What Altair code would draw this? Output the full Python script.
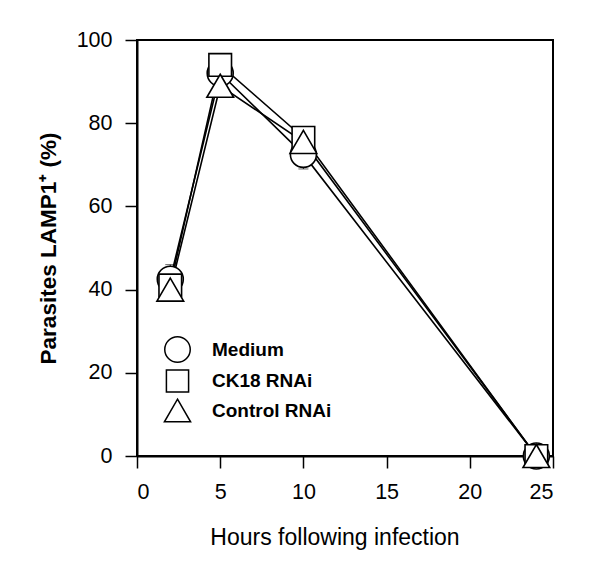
import altair as alt
import pandas as pd

hours = [2, 5, 10, 24]
series_names = ["Medium", "CK18 RNAi", "Control RNAi"]
medium = [42.5, 92, 72.5, 0]
ck18 = [41, 94, 76.5, 0]
control = [40, 89, 75.5, 0]
medium_err = [3.5, 2, 3.5, 0.5]
ck18_err = [1, 2.5, 1.5, 0.5]
control_err = [1, 1.5, 3, 0.5]
x_ticks = [0, 5, 10, 15, 20, 25]
y_ticks = [0, 20, 40, 60, 80, 100]

rows = []
for order, (name, vals, errs) in enumerate(zip(series_names, [medium, ck18, control],
                                               [medium_err, ck18_err, control_err])):
    for h, v, e in zip(hours, vals, errs):
        rows.append({"series": name, "hours": h, "value": v,
                     "lo": v - e, "hi": v + e, "ord": order})
df = pd.DataFrame(rows)

FONT = "Liberation Sans"

SQUARE = "M-0.87,-0.87L0.87,-0.87L0.87,0.87L-0.87,0.87Z"
TRIANGLE = "M0,-0.885L1.027,0.885L-1.027,0.885Z"

xscale = alt.Scale(domain=[0, 25], nice=False, zero=False)
yscale = alt.Scale(domain=[0, 100], nice=False)

xaxis = alt.Axis(values=x_ticks, title="Hours following infection", grid=False,
                 tickSize=12, labelPadding=13, labelFontSize=21.5, labelFont=FONT,
                 labelColor="black", domainColor="black", tickColor="black",
                 domainWidth=2, tickWidth=1.5, titleFont=FONT, titleFontSize=23,
                 titleFontWeight="normal", titleColor="black", titleX=197.5, titleY=88,
                 titleBaseline="alphabetic", titleAlign="center")
yaxis = alt.Axis(values=y_ticks, title="Parasites LAMP1\u207a (%)", grid=False,
                 tickSize=12, labelPadding=13, labelFontSize=21.5, labelFont=FONT,
                 labelColor="black", domainColor="black", tickColor="black",
                 domainWidth=2, tickWidth=1.5, titleFont=FONT, titleFontSize=22.5,
                 titleFontWeight="bold", titleColor="black", titleX=-82, titleY=208,
                 titleAngle=-90, titleBaseline="alphabetic", titleAlign="center")

base = alt.Chart(df)

err_rule = base.mark_rule(color="#222222", strokeWidth=1).encode(
    x=alt.X("hours:Q", scale=xscale, axis=xaxis),
    y=alt.Y("lo:Q", scale=yscale, axis=yaxis),
    y2="hi:Q",
)
cap_lo = base.mark_tick(color="#222222", orient="horizontal", size=10, thickness=1).encode(
    x=alt.X("hours:Q", scale=xscale), y=alt.Y("lo:Q", scale=yscale))
cap_hi = base.mark_tick(color="#222222", orient="horizontal", size=10, thickness=1).encode(
    x=alt.X("hours:Q", scale=xscale), y=alt.Y("hi:Q", scale=yscale))

lines = base.mark_line(color="black", strokeWidth=1.6).encode(
    x=alt.X("hours:Q", scale=xscale),
    y=alt.Y("value:Q", scale=yscale),
    detail="series:N",
)

points = base.mark_point(filled=False, color="black", fill="white", fillOpacity=1,
                         strokeWidth=1.6, opacity=1, size=676).encode(
    x=alt.X("hours:Q", scale=xscale),
    y=alt.Y("value:Q", scale=yscale),
    shape=alt.Shape("series:N",
                    scale=alt.Scale(domain=series_names,
                                    range=["circle", SQUARE, TRIANGLE]),
                    legend=alt.Legend(orient="none", legendX=27, legendY=296, title=None,
                                      symbolSize=650, symbolStrokeWidth=1.5,
                                      labelFont=FONT, labelFontSize=19,
                                      labelFontWeight="bold", labelColor="black",
                                      labelOffset=21, rowPadding=0.5, padding=0)),
    order=alt.Order("ord:Q"),
)

chart = alt.layer(err_rule, cap_lo, cap_hi, lines, points).properties(
    width=416, height=416,
    autosize=alt.AutoSizeParams(type="none"),
    padding={"left": 129, "top": 32, "right": 31, "bottom": 117},
    background="white",
).configure_view(stroke="black", strokeWidth=2)

chart.save("out.html", embed_options={"renderer": "svg", "actions": False})
